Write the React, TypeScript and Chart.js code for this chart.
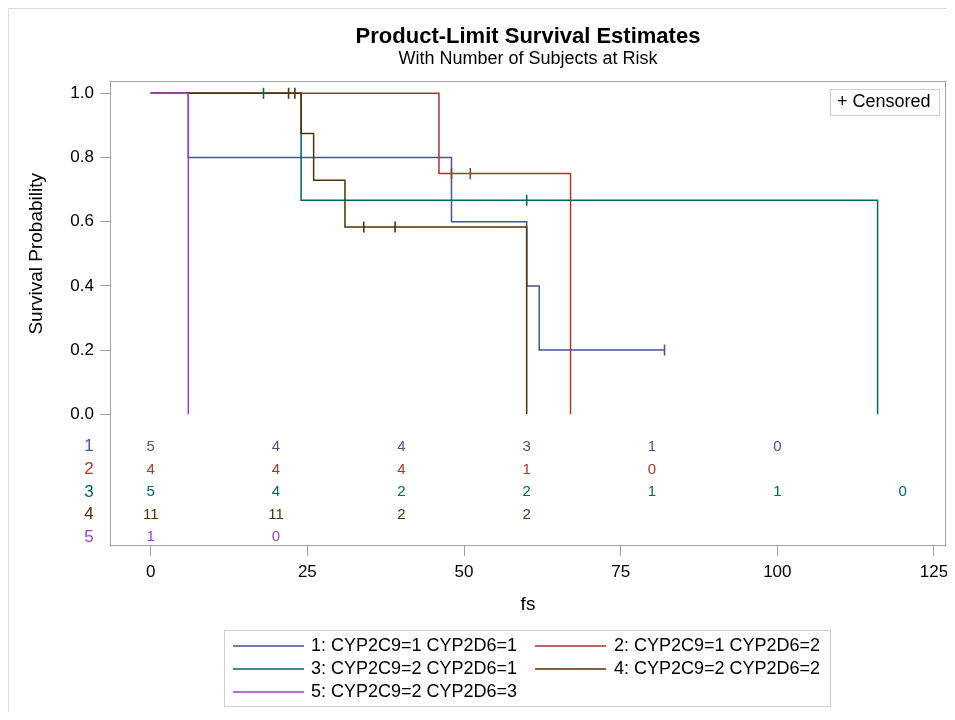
import React, { useEffect, useRef } from 'react';
import { Chart, registerables } from 'chart.js';

Chart.register(...registerables);

const FONT = '"Liberation Sans", Arial, Helvetica, sans-serif';
const FRAME = '#a3a3a3';
const TEXT = '#000000';

// Strata
const groupLabels = [
  '1: CYP2C9=1 CYP2D6=1',
  '2: CYP2C9=1 CYP2D6=2',
  '3: CYP2C9=2 CYP2D6=1',
  '4: CYP2C9=2 CYP2D6=2',
  '5: CYP2C9=2 CYP2D6=3',
];
const groupColors = ['#445694', '#A23A2E', '#01665E', '#543005', '#9D3CDB'];

// Product-limit estimates: time at which each step starts and the survival value from there on
const km1Times = [0, 6, 48, 60, 62, 82];
const km1Surv = [1, 0.8, 0.6, 0.4, 0.2, 0.2];
const km2Times = [0, 46, 67];
const km2Surv = [1, 0.75, 0];
const km3Times = [0, 24, 116];
const km3Surv = [1, 0.6667, 0];
const km4Times = [0, 24, 26, 31, 60];
const km4Surv = [1, 0.875, 0.7292, 0.5833, 0];
const km5Times = [0, 6];
const km5Surv = [1, 0];

// Censored observations
const cens1Times = [82];
const cens1Surv = [0.2];
const cens2Times = [48, 51];
const cens2Surv = [0.75, 0.75];
const cens3Times = [18, 60];
const cens3Surv = [1, 0.6667];
const cens4Times = [22, 23, 34, 39];
const cens4Surv = [1, 1, 0.5833, 0.5833];
const cens5Times: number[] = [];
const cens5Surv: number[] = [];

// Number of subjects at risk
const riskTimes = [0, 20, 40, 60, 80, 100, 120];
const atRisk1 = [5, 4, 4, 3, 1, 0];
const atRisk2 = [4, 4, 4, 1, 0];
const atRisk3 = [5, 4, 2, 2, 1, 1, 0];
const atRisk4 = [11, 11, 2, 2];
const atRisk5 = [1, 0];

const xTickValues = [0, 25, 50, 75, 100, 125];
const yTickValues = [0, 0.2, 0.4, 0.6, 0.8, 1.0];

const kmTimes = [km1Times, km2Times, km3Times, km4Times, km5Times];
const kmSurv = [km1Surv, km2Surv, km3Surv, km4Surv, km5Surv];
const censTimes = [cens1Times, cens2Times, cens3Times, cens4Times, cens5Times];
const censSurv = [cens1Surv, cens2Surv, cens3Surv, cens4Surv, cens5Surv];
const atRisk = [atRisk1, atRisk2, atRisk3, atRisk4, atRisk5];

const decorations = {
  id: 'kmDecorations',
  afterDraw(chart: any) {
    const { ctx, chartArea: a, scales } = chart;
    const xs = scales.x;
    const ys = scales.y;
    const cx = (a.left + a.right) / 2;
    ctx.save();

    // plot frame
    ctx.strokeStyle = FRAME;
    ctx.lineWidth = 1;
    ctx.strokeRect(Math.round(a.left) + 0.5, Math.round(a.top) + 0.5,
      Math.round(a.right - a.left) - 1, Math.round(a.bottom - a.top) - 1);

    // titles
    ctx.fillStyle = TEXT;
    ctx.textAlign = 'center';
    ctx.textBaseline = 'middle';
    ctx.font = `bold 22px ${FONT}`;
    ctx.fillText('Product-Limit Survival Estimates', cx, 28);
    ctx.font = `18px ${FONT}`;
    ctx.fillText('With Number of Subjects at Risk', cx, 50.5);

    // axis titles
    ctx.font = `19px ${FONT}`;
    ctx.fillText('fs', cx, 596);
    ctx.save();
    ctx.translate(28, (ys.getPixelForValue(0) + ys.getPixelForValue(1)) / 2);
    ctx.rotate(-Math.PI / 2);
    ctx.fillText('Survival Probability', 0, 0);
    ctx.restore();

    // at-risk table
    const y0 = ys.getPixelForValue(0);
    for (let g = 0; g < atRisk.length; g++) {
      const rowY = y0 + 32.5 + g * 22.6;
      ctx.fillStyle = groupColors[g];
      ctx.textAlign = 'center';
      ctx.font = `17px ${FONT}`;
      ctx.fillText(String(g + 1), 80, rowY);
      ctx.font = `15px ${FONT}`;
      atRisk[g].forEach((n, k) => {
        ctx.fillText(String(n), xs.getPixelForValue(riskTimes[k]), rowY);
      });
    }

    // censored key
    ctx.strokeStyle = '#cfcfcf';
    ctx.strokeRect(821.5, 80.5, 109, 26);
    ctx.fillStyle = TEXT;
    ctx.textAlign = 'left';
    ctx.font = `18px ${FONT}`;
    ctx.fillText('+ Censored', 828, 93.5);

    // group legend
    ctx.strokeStyle = '#cfcfcf';
    ctx.strokeRect(215.5, 621.5, 606, 76);
    const colLine = [224, 526];
    const colText = [302, 605];
    for (let g = 0; g < groupLabels.length; g++) {
      const col = g % 2;
      const row = Math.floor(g / 2);
      const ly = 637 + row * 23;
      ctx.strokeStyle = groupColors[g];
      ctx.lineWidth = 1.5;
      ctx.beginPath();
      ctx.moveTo(colLine[col], ly);
      ctx.lineTo(colLine[col] + 71, ly);
      ctx.stroke();
      ctx.fillStyle = TEXT;
      ctx.fillText(groupLabels[g], colText[col], ly);
    }
    ctx.restore();
  },
};

export default function App() {
  const canvasRef = useRef<HTMLCanvasElement | null>(null);

  useEffect(() => {
    if (!canvasRef.current) return;
    const datasets: any[] = [];
    for (let g = 0; g < groupLabels.length; g++) {
      datasets.push({
        label: groupLabels[g],
        data: kmTimes[g].map((t, k) => ({ x: t, y: kmSurv[g][k] })),
        borderColor: groupColors[g],
        backgroundColor: groupColors[g],
        borderWidth: 1.5,
        pointRadius: 0,
        stepped: 'before',
        fill: false,
        order: 5 - g + 1,
      });
    }
    for (let g = 0; g < groupLabels.length; g++) {
      datasets.push({
        label: `${groupLabels[g]} censored`,
        data: censTimes[g].map((t, k) => ({ x: t, y: censSurv[g][k] })),
        showLine: false,
        borderColor: groupColors[g],
        backgroundColor: groupColors[g],
        pointStyle: 'line',
        rotation: 90,
        pointRadius: 5.5,
        pointBorderWidth: 1.6,
        order: 0,
      });
    }

    const chart = new Chart(canvasRef.current, {
      type: 'line',
      data: { datasets },
      options: {
        animation: false,
        responsive: false,
        devicePixelRatio: 1,
        layout: { padding: { top: 72, right: 9, bottom: 106, left: 0 } },
        plugins: {
          legend: { display: false },
          tooltip: { enabled: false },
          title: { display: false },
        },
        scales: {
          x: {
            type: 'linear',
            min: -6.495,
            max: 126.915,
            afterBuildTicks: (scale: any) => {
              scale.ticks = xTickValues.map((v) => ({ value: v }));
            },
            afterFit: (scale: any) => {
              scale.height = 60;
            },
            grid: { drawOnChartArea: false, drawTicks: true, tickLength: 10, color: FRAME },
            border: { display: false },
            ticks: {
              color: TEXT,
              padding: 6,
              maxRotation: 0,
              font: { family: FONT, size: 17 },
            },
          },
          y: {
            type: 'linear',
            min: -0.4103,
            max: 1.0383,
            afterBuildTicks: (scale: any) => {
              scale.ticks = yTickValues.map((v) => ({ value: v }));
            },
            afterFit: (scale: any) => {
              scale.width = 101;
            },
            grid: { drawOnChartArea: false, drawTicks: true, tickLength: 10, color: FRAME },
            border: { display: false },
            ticks: {
              color: TEXT,
              padding: 6,
              font: { family: FONT, size: 17 },
              callback: (v: any) => Number(v).toFixed(1),
            },
          },
        },
      },
      plugins: [decorations],
    });
    return () => chart.destroy();
  }, []);

  return (
    <div
      style={{
        width: 946,
        height: 703,
        borderTop: '1px solid #dcdcdc',
        borderLeft: '1px solid #dcdcdc',
        background: '#ffffff',
      }}
    >
      <canvas ref={canvasRef} width={946} height={703} style={{ display: 'block' }} />
    </div>
  );
}
